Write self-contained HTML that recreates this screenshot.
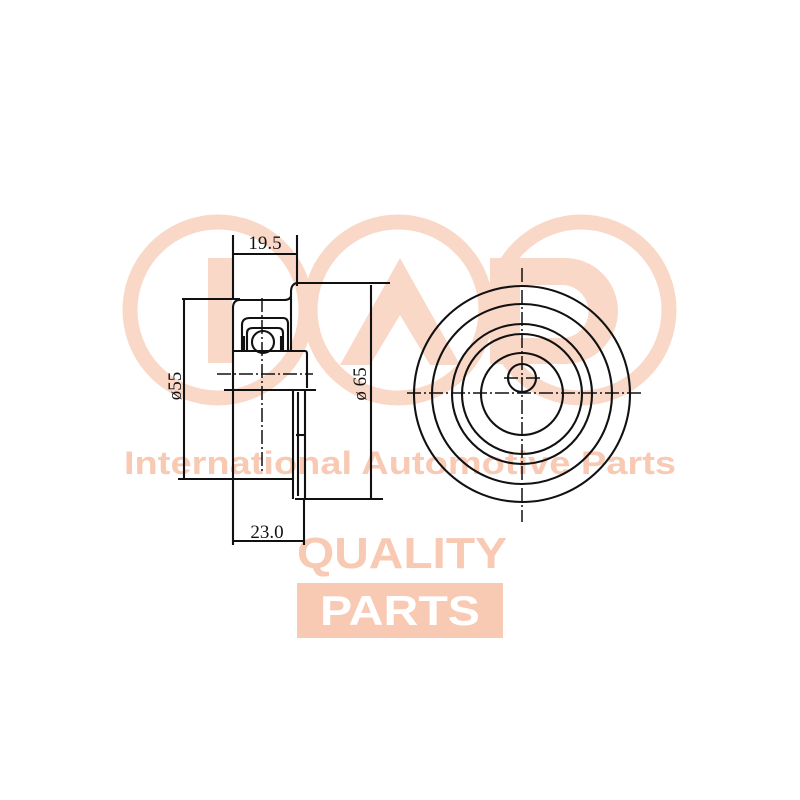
<!DOCTYPE html>
<html><head><meta charset="utf-8"><style>
body{margin:0;background:#fff;width:800px;height:800px;overflow:hidden}
svg{display:block}
</style></head><body>
<svg width="800" height="800" viewBox="0 0 800 800" xmlns="http://www.w3.org/2000/svg">
<g fill="none" stroke="#fad8c7" stroke-width="15">
<circle cx="218" cy="310" r="88"/>
<circle cx="398" cy="310" r="88"/>
<circle cx="581" cy="310" r="88"/>
</g>
<g fill="#fad8c7">
<rect x="208" y="258" width="24" height="105"/>
<polygon points="400,258 460,365 430,365 400,315 370,365 340,365"/>
<path d="M490 258 H565 A53 53 0 0 1 565 364 H520 V364 H490 Z M520 285 V338 H562 A26 26 0 0 0 562 285 Z" fill-rule="evenodd"/>
</g>
<text x="400" y="474" text-anchor="middle" font-family="Liberation Sans, sans-serif" font-weight="bold" font-size="32" fill="#f8c9b3" textLength="552" lengthAdjust="spacingAndGlyphs">International Automotive Parts</text>
<text x="402" y="568" text-anchor="middle" font-family="Liberation Sans, sans-serif" font-weight="bold" font-size="44" fill="#f8c9b3" textLength="210" lengthAdjust="spacingAndGlyphs">QUALITY</text>
<rect x="297" y="583" width="206" height="55" fill="#f8c9b3"/>
<text x="400" y="625" text-anchor="middle" font-family="Liberation Sans, sans-serif" font-weight="bold" font-size="42" fill="#fff" textLength="160" lengthAdjust="spacingAndGlyphs">PARTS</text>

<g stroke="#111" stroke-width="2.1" fill="none">
<line x1="233" y1="235" x2="233" y2="300"/>
<line x1="297" y1="235" x2="297" y2="286"/>
<line x1="233" y1="254" x2="297" y2="254"/>
<line x1="297" y1="283" x2="390" y2="283"/>
<line x1="182" y1="299" x2="240" y2="299"/>
<line x1="184" y1="299" x2="184" y2="479"/>
<line x1="178" y1="479" x2="233" y2="479"/>
<line x1="371" y1="285" x2="371" y2="498"/>
<line x1="295" y1="499" x2="383" y2="499"/>
<path d="M297 283 Q291 284 291 292 L291 296 Q290 300 284 300 L240 300 Q233 300 233 308 L233 351"/>
<path d="M242 351 L242 325 Q242 318 250 318 L283 318 Q288 318 288 324 L288 351"/>
<path d="M291 296 L291 351"/>
<path d="M247 351 L247 333 Q247 328 253 328 L278 328 Q283 328 283 333 L283 351"/>
<circle cx="263" cy="342" r="11"/>
<line x1="244" y1="336" x2="244" y2="350"/>
<line x1="281" y1="336" x2="281" y2="350"/>
<path d="M233 351 L305 351 Q307 351 307 354 L307 388"/>
<line x1="233" y1="351" x2="233" y2="479"/>
<line x1="224" y1="390" x2="316" y2="390"/>
<path d="M233 479 L293 479"/>
<line x1="293" y1="390" x2="293" y2="499"/>
<line x1="298" y1="392" x2="298" y2="496"/>
<line x1="305" y1="390" x2="305" y2="499"/>
<line x1="296" y1="435" x2="305" y2="435"/>
<line x1="233" y1="479" x2="233" y2="545"/>
<line x1="304" y1="499" x2="304" y2="545"/>
<line x1="233" y1="541" x2="304" y2="541"/>
<circle cx="522" cy="394" r="108"/>
<circle cx="522" cy="394" r="90"/>
<circle cx="522" cy="394" r="70"/>
<circle cx="522" cy="394" r="60"/>
<circle cx="522" cy="394" r="41"/>
<circle cx="522" cy="378" r="14"/>
</g>
<g stroke="#111" stroke-width="1.5" fill="none" stroke-dasharray="14,3,2,3">
<line x1="217" y1="374" x2="313" y2="374"/>
<line x1="262" y1="298" x2="262" y2="472"/>
<line x1="407" y1="393" x2="641" y2="393"/>
<line x1="522" y1="268" x2="522" y2="522"/>
<line x1="504" y1="378" x2="541" y2="378"/>
</g>
<g font-family="Liberation Serif, serif" font-size="19" fill="#111">
<text x="265" y="249" text-anchor="middle">19.5</text>
<text x="267" y="538" text-anchor="middle">23.0</text>
<text transform="translate(181,386) rotate(-90)" text-anchor="middle">ø55</text>
<text transform="translate(366,384) rotate(-90)" text-anchor="middle">ø 65</text>
</g>
</svg>
</body></html>
